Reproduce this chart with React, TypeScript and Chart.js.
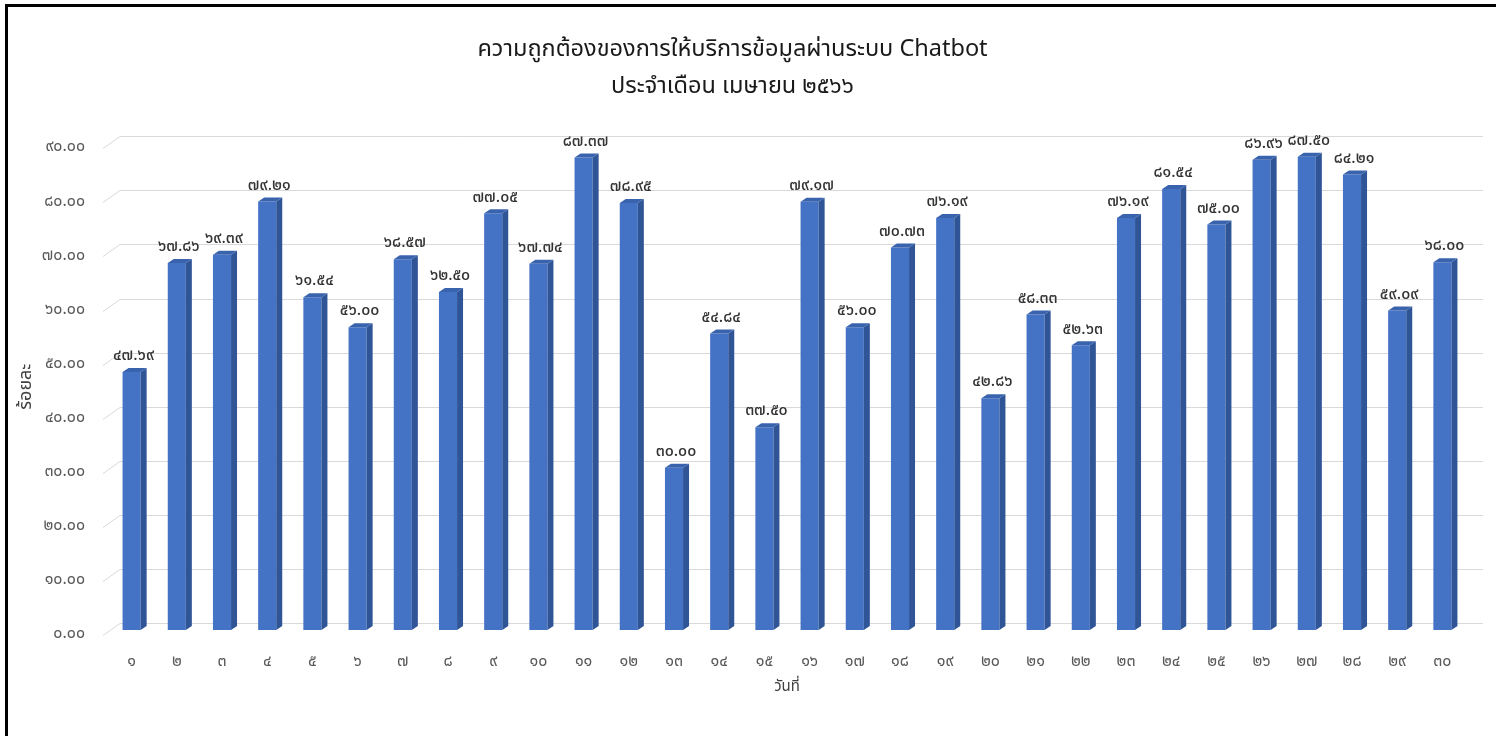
import React, { useEffect, useRef } from "react";
import { Chart, registerables } from "chart.js";

Chart.register(...registerables);

const TITLE_LINES = [
  "ความถูกต้องของการให้บริการข้อมูลผ่านระบบ Chatbot",
  "ประจำเดือน เมษายน ๒๕๖๖",
];
const Y_TITLE = "ร้อยละ";
const X_TITLE = "วันที่";

const DAYS = [
  "๑", "๒", "๓", "๔", "๕", "๖", "๗", "๘", "๙", "๑๐",
  "๑๑", "๑๒", "๑๓", "๑๔", "๑๕", "๑๖", "๑๗", "๑๘", "๑๙", "๒๐",
  "๒๑", "๒๒", "๒๓", "๒๔", "๒๕", "๒๖", "๒๗", "๒๘", "๒๙", "๓๐",
];

const ACCURACY = [
  47.69, 67.86, 69.39, 79.21, 61.54, 56.0, 68.57, 62.5, 77.05, 67.74,
  87.37, 78.95, 30.0, 54.84, 37.5, 79.17, 56.0, 70.73, 76.19, 42.86,
  58.33, 52.63, 76.19, 81.54, 75.0, 86.96, 87.5, 84.21, 59.09, 68.0,
];

const Y_MIN = 0;
const Y_MAX = 90;
const Y_STEP = 10;

const THAI_DIGITS = ["๐", "๑", "๒", "๓", "๔", "๕", "๖", "๗", "๘", "๙"];
const toThai = (s: string) => s.replace(/[0-9]/g, (d) => THAI_DIGITS[Number(d)]);

const FONT = '"Noto Sans Thai", "Noto Sans Thai UI", Tahoma, "Noto Sans", "DejaVu Sans", sans-serif';

const FRONT = "#4472C4";
const SIDE = "#2F5597";
const TOP = "#3A63AE";
const GRID = "#d9d9d9";

const threeD = {
  id: "threeD",
  beforeDatasetsDraw(chart: any) {
    const { ctx, chartArea, scales } = chart;
    const y = scales.y;
    ctx.save();
    ctx.strokeStyle = GRID;
    ctx.lineWidth = 1;
    for (const t of y.ticks) {
      const py = Math.round(y.getPixelForValue(t.value)) + 0.5;
      ctx.beginPath();
      ctx.moveTo(chartArea.left - 6, py + 5);
      ctx.lineTo(chartArea.left + 11, py - 7);
      ctx.lineTo(chartArea.right + 18, py - 7);
      ctx.stroke();
    }
    ctx.restore();
  },
  afterDatasetsDraw(chart: any) {
    const { ctx } = chart;
    const meta = chart.getDatasetMeta(0);
    const d = 6;
    const dy = 4;
    ctx.save();
    meta.data.forEach((bar: any, i: number) => {
      const { x, y, base, width } = bar.getProps(["x", "y", "base", "width"], true);
      const l = x - width / 2;
      const r = x + width / 2;
      ctx.fillStyle = SIDE;
      ctx.beginPath();
      ctx.moveTo(r, y);
      ctx.lineTo(r + d, y - dy);
      ctx.lineTo(r + d, base - dy);
      ctx.lineTo(r, base);
      ctx.closePath();
      ctx.fill();
      ctx.fillStyle = TOP;
      ctx.beginPath();
      ctx.moveTo(l, y);
      ctx.lineTo(l + d, y - dy);
      ctx.lineTo(r + d, y - dy);
      ctx.lineTo(r, y);
      ctx.closePath();
      ctx.fill();
      const v = chart.data.datasets[0].data[i];
      ctx.fillStyle = "#333333";
      ctx.font = `500 16px ${FONT}`;
      ctx.textAlign = "center";
      ctx.textBaseline = "middle";
      ctx.fillText(toThai(Number(v).toFixed(2)), x + 2, y - 15);
    });
    ctx.restore();
  },
};

export default function App() {
  const ref = useRef<HTMLCanvasElement>(null);
  useEffect(() => {
    if (!ref.current) return;
    const chart = new Chart(ref.current, {
      type: "bar",
      data: {
        labels: DAYS,
        datasets: [
          {
            label: Y_TITLE,
            data: ACCURACY,
            backgroundColor: FRONT,
            borderWidth: 0,
            categoryPercentage: 1,
            barPercentage: 0.4,
          },
        ],
      },
      options: {
        responsive: false,
        maintainAspectRatio: false,
        animation: false,
        devicePixelRatio: 1,
        layout: { padding: { left: 0, right: 31, top: 0, bottom: 0 } },
        plugins: {
          legend: { display: false },
          tooltip: { enabled: false },
          title: {
            display: true,
            text: TITLE_LINES,
            color: "#1a1a1a",
            font: { family: FONT, size: 23.5, weight: "normal", lineHeight: 1.58 },
            padding: { top: 33, bottom: 36 },
          },
        },
        scales: {
          x: {
            grid: { display: false, drawTicks: false },
            border: { display: false },
            ticks: {
              color: "#595959",
              font: { family: FONT, size: 16 },
              padding: 23,
              maxRotation: 0,
              autoSkip: false,
            },
            title: {
              display: true,
              text: X_TITLE,
              color: "#404040",
              font: { family: FONT, size: 15 },
              padding: { top: 0, bottom: 39 },
            },
            afterFit: (s: any) => {
              s.height = 106;
            },
          },
          y: {
            min: Y_MIN,
            max: Y_MAX,
            grid: { display: false, drawTicks: false },
            border: { display: false },
            ticks: {
              stepSize: Y_STEP,
              color: "#595959",
              font: { family: FONT, size: 16 },
              padding: 24,
              labelOffset: 5,
              callback: (v: any) => toThai(Number(v).toFixed(2)),
            },
            title: {
              display: true,
              text: Y_TITLE,
              color: "#404040",
              font: { family: FONT, size: 18 },
              padding: { top: 17, bottom: 0 },
            },
            afterFit: (s: any) => {
              s.width = 109;
            },
          },
        },
      },
      plugins: [threeD],
    });
    return () => chart.destroy();
  }, []);

  return (
    <div style={{ position: "fixed", left: 0, top: 0, width: 1496, height: 736, background: "#fff" }}>
      <canvas ref={ref} width={1496} height={736} style={{ position: "absolute", left: 0, top: 0 }} />
      <div
        style={{
          position: "absolute",
          left: 5,
          top: 4,
          right: 0,
          bottom: 0,
          borderLeft: "3px solid #000",
          borderTop: "3px solid #000",
          pointerEvents: "none",
        }}
      />
    </div>
  );
}
